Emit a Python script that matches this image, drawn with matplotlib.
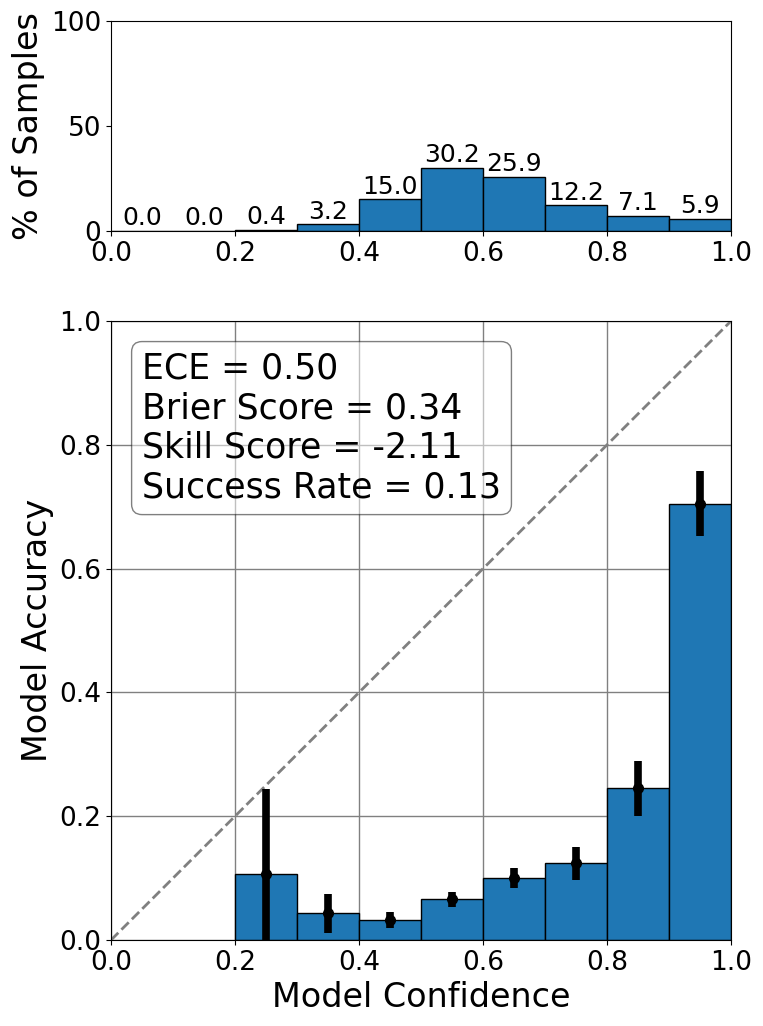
import numpy as np
import matplotlib
matplotlib.use("Agg")
import matplotlib.pyplot as plt

##########
# Datos  #
##########

bin_left = [0.0, 0.1, 0.2, 0.3, 0.4, 0.5, 0.6, 0.7, 0.8, 0.9]
pct_samples = [0.0, 0.0, 0.4, 3.2, 15.0, 30.2, 25.9, 12.2, 7.1, 5.9]

acc_left = [0.2, 0.3, 0.4, 0.5, 0.6, 0.7, 0.8, 0.9]
accuracy = [0.107, 0.043, 0.033, 0.066, 0.100, 0.124, 0.245, 0.705]
acc_err = [0.137, 0.031, 0.013, 0.012, 0.016, 0.027, 0.045, 0.052]

metrics_text = "ECE = 0.50\nBrier Score = 0.34\nSkill Score = -2.11\nSuccess Rate = 0.13"

#################
# Crear figura  #
#################

fig = plt.figure(figsize=(7.63, 10.26), dpi=100)
ax_top = fig.add_axes([0.1455, 0.7749, 0.8126, 0.2047])
ax = fig.add_axes([0.1455, 0.0838, 0.8126, 0.6033])

# histograma de muestras
ax_top.bar(bin_left, pct_samples, width=0.1, align='edge',
           color='#1f77b4', edgecolor='black', linewidth=1)
for x, p in zip(bin_left, pct_samples):
    ax_top.text(x + 0.05, p + 0.3, f"{p:.1f}", ha='center', va='bottom', fontsize=18)
ax_top.set_xlim(0, 1)
ax_top.set_ylim(0, 100)
ax_top.set_yticks([0, 50, 100])
ax_top.set_xticks(np.arange(0, 1.01, 0.2))
ax_top.set_ylabel("% of Samples", fontsize=24)
ax_top.tick_params(labelsize=19)

# diagrama de fiabilidad
ax.grid(True, color='gray', linewidth=1)
ax.set_axisbelow(True)
ax.bar(acc_left, accuracy, width=0.1, align='edge',
       color='#1f77b4', edgecolor='black', linewidth=1, zorder=2)
centers = [x + 0.05 for x in acc_left]
ax.errorbar(centers, accuracy, yerr=acc_err, fmt='o', color='black',
            elinewidth=5.5, markersize=7, zorder=3)
ax.plot([0, 1], [0, 1], '--', color='gray', linewidth=2, zorder=2)
ax.text(0.05, 0.95, metrics_text, transform=ax.transAxes, fontsize=25,
        va='top', ha='left',
        bbox=dict(boxstyle='round', facecolor='white', alpha=0.5), zorder=4)
ax.set_xlim(0, 1)
ax.set_ylim(0, 1)
ax.set_xticks(np.arange(0, 1.01, 0.2))
ax.set_yticks(np.arange(0, 1.01, 0.2))
ax.set_xlabel("Model Confidence", fontsize=24)
ax.set_ylabel("Model Accuracy", fontsize=24)
ax.tick_params(labelsize=19)

fig.savefig("out.png", dpi=100)
